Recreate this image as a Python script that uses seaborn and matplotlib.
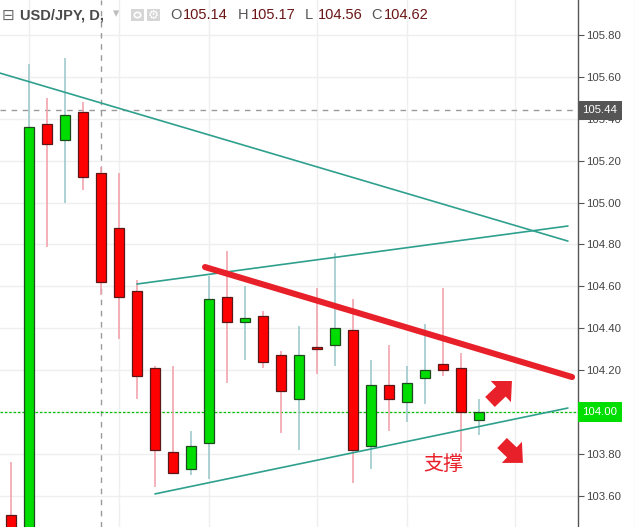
import matplotlib
matplotlib.use("Agg")
import matplotlib.pyplot as plt
from matplotlib.patches import Rectangle, Circle
import numpy as np
import pandas as pd
import seaborn as sns

# ---------------------------------------------------------
# Data: USD/JPY daily candles
# ---------------------------------------------------------
opens  = [103.51, 103.40, 105.375, 105.30, 105.43, 105.14, 104.88, 104.58, 104.21, 103.81,
          103.73, 103.85, 104.55, 104.43, 104.46, 104.27, 104.06, 104.31, 104.32, 104.39,
          103.84, 104.13, 104.05, 104.16, 104.23, 104.21, 103.96]
highs  = [103.76, 105.66, 105.50, 105.69, 105.48, 105.17, 105.14, 104.63, 104.22, 104.22,
          103.91, 104.65, 104.77, 104.60, 104.48, 104.29, 104.41, 104.59, 104.76, 104.54,
          104.25, 104.32, 104.22, 104.42, 104.59, 104.28, 104.06]
lows   = [103.20, 103.35, 104.79, 105.00, 105.06, 104.56, 104.35, 104.06, 103.64, 103.71,
          103.70, 103.68, 104.14, 104.25, 104.21, 103.90, 103.82, 104.18, 104.22, 103.66,
          103.73, 103.91, 103.95, 104.04, 104.17, 103.81, 103.89]
closes = [103.30, 105.36, 105.28, 105.42, 105.12, 104.62, 104.55, 104.17, 103.82, 103.71,
          103.84, 104.54, 104.43, 104.45, 104.24, 104.10, 104.27, 104.30, 104.40, 103.82,
          104.13, 104.06, 104.14, 104.20, 104.20, 104.00, 104.00]

# trend line anchor points (bar index, price)
trend_names = ["top", "top", "channel_up", "channel_up", "support", "support"]
trend_x     = [-0.61, 30.94, 7.0, 30.94, 8.0, 30.94]
trend_price = [105.618, 104.816, 104.611, 104.888, 103.609, 104.019]
resist_x     = [10.78, 31.17]
resist_price = [104.692, 104.167]

# drawn arrows: (tail index, tail price, tip index, tip price)
arrows = [(26.61, 104.048, 27.83, 104.148),
          (27.28, 103.852, 28.44, 103.757)]

y_ticks = [103.6, 103.8, 104.0, 104.2, 104.4, 104.6, 104.8, 105.0, 105.2, 105.4, 105.6, 105.8]
week_starts = [1, 6, 11, 17, 22, 28]
cross_idx, cross_price = 5, 105.44
last_price = 104.00
header_vals = [("O", "105.14"), ("H", "105.17"), ("L", "104.56"), ("C", "104.62")]

# ---------------------------------------------------------
# Figure
# ---------------------------------------------------------
sns.set_theme(style="white")
plt.rcParams['font.family'] = ['Liberation Sans', 'DejaVu Sans']

W, H = 635, 527
fig = plt.figure(figsize=(W / 100, H / 100), dpi=100)
ax = fig.add_axes([0, 0, 578 / W, 1])

idx = np.arange(len(opens))
o, h, l, c = map(np.array, (opens, highs, lows, closes))
up = c >= o

red, green = "#ff0000", "#00dd00"
teal = "#2fa08e"

# wicks
ax.vlines(idx[up], l[up], h[up], color="#9fc9cc", lw=1.2, zorder=2)
ax.vlines(idx[~up], l[~up], h[~up], color="#f2a3ad", lw=1.2, zorder=2)
# bodies
body_h = np.maximum(np.abs(c - o), 0.012)
ax.bar(idx[up], body_h[up], bottom=np.minimum(o, c)[up], width=0.56,
       color=green, edgecolor="#1f4a1f", linewidth=0.9, zorder=3)
ax.bar(idx[~up], body_h[~up], bottom=np.minimum(o, c)[~up], width=0.56,
       color=red, edgecolor="#5a1818", linewidth=0.9, zorder=3)

# trend lines
trend_df = pd.DataFrame({"line": trend_names, "x": trend_x, "price": trend_price})
sns.lineplot(data=trend_df, x="x", y="price", units="line", estimator=None,
             color=teal, lw=1.2, ax=ax, zorder=4)
sns.lineplot(x=resist_x, y=resist_price, color="#e8202a", lw=4.4, ax=ax,
             solid_capstyle="round", zorder=5)

# crosshair and last price line
ax.axhline(cross_price, color="#9a9a9a", lw=1, ls=(0, (4, 4)), zorder=1)
ax.axvline(cross_idx, color="#9a9a9a", lw=1, ls=(0, (4, 4)), zorder=1)
ax.axhline(last_price, color="#00c000", lw=0.9, ls=(0, (2, 1.5)), zorder=1)

# arrows and note
for x0, y0, x1, y1 in arrows:
    ax.annotate("", xy=(x1, y1), xytext=(x0, y0), zorder=6,
                arrowprops=dict(arrowstyle="simple,head_length=0.55,head_width=1.05,tail_width=0.5",
                                color="#e8202a", lw=0, mutation_scale=20,
                                shrinkA=0, shrinkB=0))
ax.text(24.0, 103.75, "支撑", color="#e8202a", fontsize=14.5, ha="center", va="center",
        family=["Noto Sans CJK SC", "DejaVu Sans"], zorder=6)

# axes styling
ax.set_xlim(-0.61, 31.5)
ax.set_ylim(103.451, 105.967)
ax.set_xticks(week_starts)
ax.set_xticklabels([])
ax.set_yticks(y_ticks)
# the 104.00 label sits under the last-price tag
ax.set_yticklabels(["" if abs(v - last_price) < 1e-9 else f"{v:.2f}" for v in y_ticks])
ax.yaxis.tick_right()
ax.tick_params(axis="y", direction="out", length=4, width=0.8, color="#555555",
               labelsize=8.2, labelcolor="#444444", pad=2, right=True)
ax.tick_params(axis="x", length=0)
ax.grid(True, color="#efefef", lw=1)
ax.set_axisbelow(True)
for side in ("left", "top", "bottom"):
    ax.spines[side].set_visible(False)
ax.spines["right"].set_color("#555555")
ax.spines["right"].set_linewidth(1)
ax.set_xlabel("")
ax.set_ylabel("")

# price tags on the axis
ytr = ax.get_yaxis_transform()
tag_box = "square,pad=0.4"
ax.text(1.0 + 4.5 / 578, cross_price, f"{cross_price:.2f}", transform=ytr, ha="left", va="center",
        fontsize=8.2, color="white", clip_on=False, zorder=10,
        bbox=dict(boxstyle=tag_box, fc="#555555", ec="none"))
ax.text(1.0 + 4.5 / 578, last_price, f"{last_price:.2f}", transform=ytr, ha="left", va="center",
        fontsize=8.2, color="white", clip_on=False, zorder=10,
        bbox=dict(boxstyle=tag_box, fc="#00dd00", ec="none"))

# light border on the right edge
fig.add_artist(plt.Line2D([634.5 / W, 634.5 / W], [0, 1], color="#e6e6e6", lw=1))

# ---------------------------------------------------------
# Header
# ---------------------------------------------------------
def fx(px):
    return px / W

def fy(py):
    return 1 - py / H

fig.text(fx(2), fy(15), "⊟", fontsize=11, color="#666666", va="center", ha="left",
         family=["DejaVu Sans"])
fig.text(fx(20), fy(15), "USD/JPY, D,", fontsize=10.5, fontweight="bold", color="#4a4a4a",
         va="center", ha="left")
fig.text(fx(116), fy(14), "▾", fontsize=9, color="#bdbdbd", va="center", ha="center",
         family=["DejaVu Sans"])
for x0 in (131, 147):
    fig.add_artist(Rectangle((fx(x0), fy(21)), 13 / W, 12 / H, transform=fig.transFigure,
                             fc="#d6d6d6", ec="none"))
fig.add_artist(Circle((fx(137.5), fy(15)), 3.2 / W, transform=fig.transFigure,
                      fc="none", ec="white", lw=1.2))
fig.text(fx(153.5), fy(15), "⚙", fontsize=9, color="white", va="center", ha="center",
         family=["DejaVu Sans"])

x_positions = [170, 238, 305, 371]
for (lab, val), xp in zip(header_vals, x_positions):
    fig.text(fx(xp), fy(15), lab, fontsize=10.5, color="#555555", va="center", ha="left")
    fig.text(fx(xp + 13), fy(15), val, fontsize=10.5, color="#6b1616", va="center", ha="left")

fig.savefig("out.png", dpi=100)
